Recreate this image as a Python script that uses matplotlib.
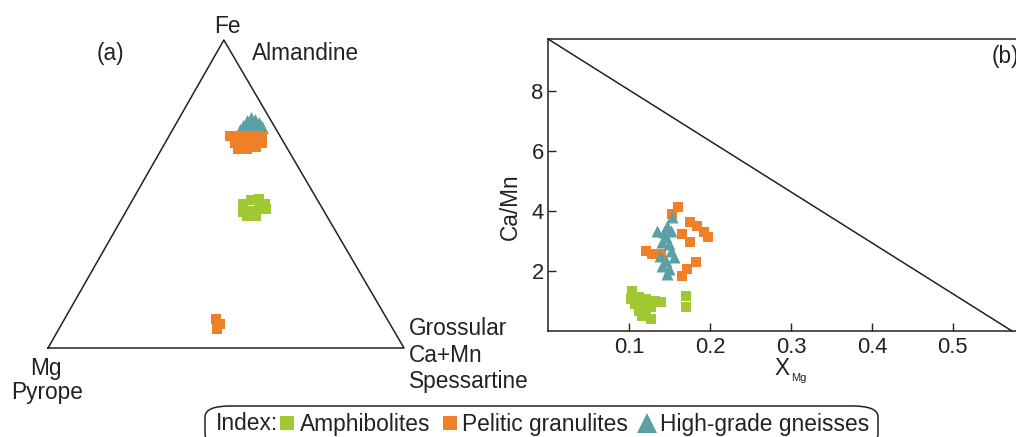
import matplotlib
matplotlib.use("Agg")
import matplotlib.pyplot as plt
from matplotlib.lines import Line2D
from matplotlib.patches import FancyBboxPatch

plt.rcParams['font.family'] = ['Liberation Sans', 'DejaVu Sans']

# ---- data ----
# (a) ternary Fe - Mg - (Ca+Mn): fractions of Fe and Ca+Mn (Mg = rest)
amph_fe = [0.469, 0.469, 0.479, 0.485, 0.440, 0.446, 0.450, 0.450, 0.427, 0.430]
amph_camn = [0.316, 0.378, 0.333, 0.353, 0.330, 0.350, 0.370, 0.390, 0.348, 0.372]
pel_fe = [0.687, 0.687, 0.687, 0.687, 0.684, 0.664, 0.664, 0.668, 0.668,
          0.645, 0.645, 0.651, 0.094, 0.078, 0.062]
pel_camn = [0.172, 0.197, 0.222, 0.247, 0.263, 0.197, 0.273, 0.220, 0.246,
            0.215, 0.240, 0.262, 0.425, 0.444, 0.444]
gn_fe = [0.720, 0.736, 0.746, 0.739, 0.730, 0.717, 0.717, 0.720, 0.707]
gn_camn = [0.192, 0.195, 0.201, 0.216, 0.232, 0.247, 0.210, 0.226, 0.190]

# (b) XMg vs Ca/Mn
amph_xmg = [0.104, 0.102, 0.112, 0.121, 0.132, 0.140, 0.108, 0.116, 0.127,
            0.112, 0.121, 0.116, 0.127, 0.171, 0.171]
amph_camn_r = [1.33, 1.06, 1.13, 1.06, 1.00, 0.96, 0.90, 0.83, 0.80,
               0.66, 0.63, 0.50, 0.40, 1.16, 0.80]
pel_xmg = [0.160, 0.153, 0.175, 0.184, 0.193, 0.197, 0.165, 0.175, 0.121,
           0.129, 0.140, 0.183, 0.172, 0.166]
pel_camn_r = [4.12, 3.89, 3.62, 3.49, 3.29, 3.12, 3.22, 2.96, 2.66,
              2.56, 2.56, 2.29, 2.06, 1.83]
gn_xmg = [0.153, 0.147, 0.135, 0.143, 0.152, 0.146, 0.141, 0.150, 0.152,
          0.138, 0.146, 0.156, 0.141, 0.150, 0.147]
gn_camn_r = [3.79, 3.49, 3.32, 3.29, 3.32, 3.12, 2.96, 2.89, 2.66,
             2.49, 2.33, 2.46, 2.16, 2.06, 1.89]

bound_x = [0.0, 0.573]
bound_y = [9.73, 0.0]

xticks = [0.1, 0.2, 0.3, 0.4, 0.5]
yticks = [2, 4, 6, 8]

GREEN = '#a0c832'
ORANGE = '#f08028'
TEAL = '#5aa0a5'
INK = '#222222'
FS = 16.3

W, H = 1016, 437


def fx(x):
    return x / W


def fy(y):
    return 1 - y / H


fig = plt.figure(figsize=(W / 100, H / 100), dpi=100)

# ---- (a) ternary ----
APEX = 0.494
axL = fig.add_axes([fx(48), fy(348), 356 / W, 308 / H])
axL.set_xlim(0, 1)
axL.set_ylim(0, 1)
axL.axis('off')


def tern(fe, camn):
    xs = [c + f * APEX for f, c in zip(fe, camn)]
    return xs, list(fe)


axL.plot([0, 1, APEX, 0], [0, 0, 1, 0], color=INK, lw=1.1, clip_on=False)
x, y = tern(amph_fe, amph_camn)
axL.scatter(x, y, marker='s', s=60, color=GREEN, linewidths=0, clip_on=False)
x, y = tern(gn_fe, gn_camn)
axL.scatter(x, y, marker='^', s=85, color=TEAL, linewidths=0, clip_on=False)
x, y = tern(pel_fe, pel_camn)
axL.scatter(x, y, marker='s', s=60, color=ORANGE, linewidths=0, clip_on=False)

fig.text(fx(110), fy(60), '(a)', ha='center', va='baseline', fontsize=FS, color=INK)
fig.text(fx(227), fy(33), 'Fe', ha='center', va='baseline', fontsize=FS, color=INK)
fig.text(fx(252), fy(60), 'Almandine', ha='left', va='baseline', fontsize=FS, color=INK)
fig.text(fx(46), fy(375), 'Mg', ha='center', va='baseline', fontsize=FS, color=INK)
fig.text(fx(47), fy(399), 'Pyrope', ha='center', va='baseline', fontsize=FS, color=INK)
fig.text(fx(409), fy(335), 'Grossular', ha='left', va='baseline', fontsize=FS, color=INK)
fig.text(fx(409), fy(362), 'Ca+Mn', ha='left', va='baseline', fontsize=FS, color=INK)
fig.text(fx(409), fy(388), 'Spessartine', ha='left', va='baseline', fontsize=FS, color=INK)

# ---- (b) XMg vs Ca/Mn ----
axR = fig.add_axes([fx(548), fy(331), (W - 548) / W, 292 / H])
axR.set_xlim(0, 0.578)
axR.set_ylim(0, 9.73)
axR.plot(bound_x, bound_y, color=INK, lw=1.1, clip_on=False)
axR.scatter(amph_xmg, amph_camn_r, marker='s', s=55, color=GREEN, linewidths=0)
axR.scatter(pel_xmg, pel_camn_r, marker='s', s=55, color=ORANGE, linewidths=0)
axR.scatter(gn_xmg, gn_camn_r, marker='^', s=75, color=TEAL, linewidths=0)

axR.set_xticks(xticks)
axR.set_xticklabels(['%.1f' % v for v in xticks])
axR.set_yticks(yticks)
axR.tick_params(direction='in', length=6, width=1, color=INK, labelsize=15.8,
                labelcolor=INK)
axR.tick_params(axis='x', pad=4)
axR.tick_params(axis='y', pad=3)
axR.spines['right'].set_visible(False)
for s in ['left', 'bottom', 'top']:
    axR.spines[s].set_color(INK)
    axR.spines[s].set_linewidth(1.1)

fig.text(fx(992), fy(63), '(b)', ha='left', va='baseline', fontsize=FS, color=INK)
fig.text(fx(510), fy(207), 'Ca/Mn', ha='center', va='center', rotation=90,
         fontsize=FS, color=INK)
fig.text(fx(790), fy(375), 'X', ha='right', va='baseline', fontsize=FS, color=INK)
fig.text(fx(791), fy(381), 'Mg', ha='left', va='baseline', fontsize=8, color=INK)

# ---- legend box ----
box = FancyBboxPatch((fx(205), fy(445)), fx(878) - fx(205), fy(406) - fy(445),
                     boxstyle='round,pad=0,rounding_size=0.025',
                     transform=fig.transFigure, facecolor='white',
                     edgecolor=INK, lw=1.1, zorder=0)
fig.patches.append(box)
fig.text(fx(216), fy(430), 'Index:', ha='left', va='baseline', fontsize=16.4, color=INK)
handles = [
    Line2D([], [], marker='s', linestyle='none', markersize=10,
           markerfacecolor=GREEN, markeredgewidth=0, label='Amphibolites'),
    Line2D([], [], marker='s', linestyle='none', markersize=10,
           markerfacecolor=ORANGE, markeredgewidth=0, label='Pelitic granulites'),
    Line2D([], [], marker='^', linestyle='none', markersize=15,
           markerfacecolor=TEAL, markeredgewidth=0, label='High-grade gneisses'),
]
leg = fig.legend(handles=handles, loc='center left',
                 bbox_to_anchor=(fx(278), fy(424)), ncol=3, frameon=False,
                 fontsize=16.4, handlelength=0.8, handletextpad=0.15,
                 columnspacing=0.45, borderpad=0, borderaxespad=0)
for t in leg.get_texts():
    t.set_color(INK)

fig.savefig('out.png', dpi=100)
